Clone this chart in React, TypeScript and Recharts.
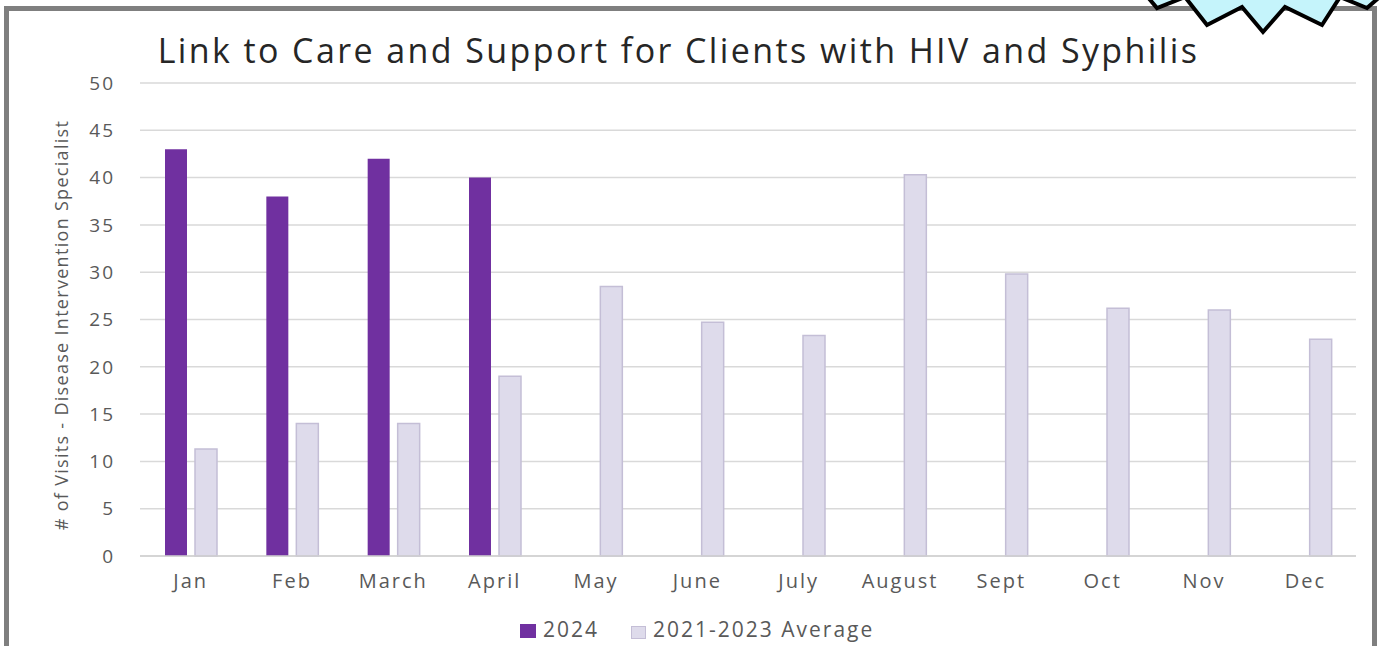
import { Bar, BarChart, CartesianGrid, Label, XAxis, YAxis } from "recharts";

const months = [
  "Jan",
  "Feb",
  "March",
  "April",
  "May",
  "June",
  "July",
  "August",
  "Sept",
  "Oct",
  "Nov",
  "Dec",
];

const visits2024 = [43, 38, 42, 40, null, null, null, null, null, null, null, null];

const average2021to2023 = [11.3, 14, 14, 19, 28.5, 24.7, 23.3, 40.3, 29.8, 26.2, 26, 22.9];

const yTicks = [0, 5, 10, 15, 20, 25, 30, 35, 40, 45, 50];

const seriesNames = ["2024", "2021-2023 Average"];

const PURPLE = "#7030a0";
const LIGHT = "#dedbeb";
const LIGHT_STROKE = "#c4bed6";
const TEXT = "#595959";
const FONT = "'Open Sans', sans-serif";

const data = months.map((month, i) => ({
  month,
  current: visits2024[i],
  average: average2021to2023[i],
}));

function YAxisTitle() {
  return (
    <text
      x={61}
      y={325}
      transform="rotate(-90, 61, 325)"
      textAnchor="middle"
      dominantBaseline="central"
      fill={TEXT}
      fontSize={18}
      style={{ letterSpacing: "1.3px" }}
    >
      # of Visits - Disease Intervention Specialist
    </text>
  );
}

function Star() {
  const points = [
    [1140, -12],
    [1157, 8],
    [1185, -3],
    [1207, 25],
    [1242, 7],
    [1263, 32],
    [1285, 7],
    [1322, 25],
    [1340, -3],
    [1367, 8],
    [1390, -12],
  ]
    .map((p) => p.join(","))
    .join(" ");

  return (
    <svg
      width={1381}
      height={646}
      style={{ position: "absolute", left: 0, top: 0, pointerEvents: "none" }}
    >
      <polygon points={points} fill="#c5f4fb" stroke="#000" strokeWidth={4} strokeLinejoin="miter" />
    </svg>
  );
}

export default function App() {
  return (
    <div
      style={{
        position: "absolute",
        left: 0,
        top: 0,
        width: 1381,
        height: 646,
        overflow: "hidden",
        background: "#fff",
        fontFamily: FONT,
      }}
    >
      <div
        style={{
          position: "absolute",
          left: 4,
          top: 6,
          width: 1373,
          height: 700,
          boxSizing: "border-box",
          border: "5px solid #7f7f7f",
        }}
      />

      <div
        style={{
          position: "absolute",
          left: 0,
          top: 27,
          width: 1357,
          textAlign: "center",
          fontSize: 34,
          color: "#262626",
          letterSpacing: "2.4px",
          lineHeight: "normal",
          whiteSpace: "nowrap",
        }}
      >
        Link to Care and Support for Clients with HIV and Syphilis
      </div>

      <div style={{ position: "absolute", left: 0, top: 0 }}>
        <BarChart
          width={1381}
          height={646}
          data={data}
          margin={{ top: 83, right: 25, bottom: 0, left: 0 }}
          barSize={22}
          barGap={8}
          style={{ fontFamily: FONT, letterSpacing: "2px" }}
        >
          <CartesianGrid vertical={false} stroke="#d9d9d9" strokeWidth={1.5} />
          <XAxis
            dataKey="month"
            height={90}
            axisLine={{ stroke: "#d0d0d0", strokeWidth: 1.5 }}
            tickLine={false}
            tickSize={0}
            tickMargin={18}
            tick={{ fill: TEXT, fontSize: 20 }}
            interval={0}
          />
          <YAxis
            width={140}
            domain={[0, 50]}
            ticks={yTicks}
            axisLine={false}
            tickLine={false}
            tickSize={0}
            tickMargin={25}
            tick={{ fill: TEXT, fontSize: 19 }}
          >
            <Label content={<YAxisTitle />} />
          </YAxis>
          <Bar dataKey="current" name={seriesNames[0]} fill={PURPLE} isAnimationActive={false} />
          <Bar
            dataKey="average"
            name={seriesNames[1]}
            fill={LIGHT}
            stroke={LIGHT_STROKE}
            strokeWidth={1.5}
            isAnimationActive={false}
          />
        </BarChart>
      </div>

      <div
        style={{
          position: "absolute",
          left: 520,
          top: 615,
          display: "flex",
          alignItems: "center",
          fontSize: 21,
          lineHeight: "28px",
          color: TEXT,
          letterSpacing: "2px",
          whiteSpace: "nowrap",
        }}
      >
        <span
          style={{ display: "inline-block", width: 16, height: 14, background: PURPLE, marginRight: 7, marginTop: 4 }}
        />
        <span style={{ marginRight: 32 }}>{seriesNames[0]}</span>
        <span
          style={{
            display: "inline-block",
            width: 15,
            height: 13,
            boxSizing: "border-box",
            background: LIGHT,
            border: `1px solid ${LIGHT_STROKE}`,
            marginRight: 7,
            marginTop: 6,
          }}
        />
        <span>{seriesNames[1]}</span>
      </div>

      <Star />
    </div>
  );
}
